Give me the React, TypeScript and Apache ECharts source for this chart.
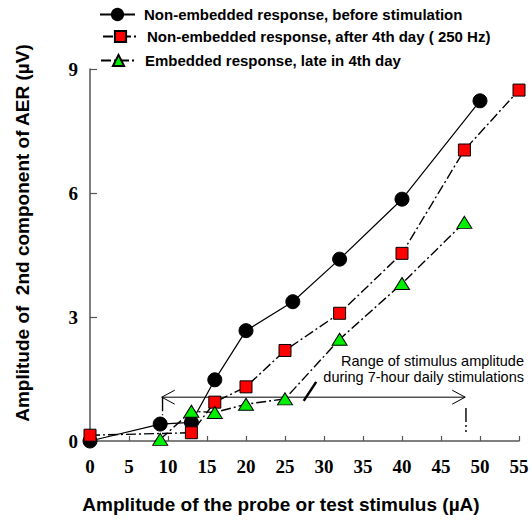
import React, { useEffect, useRef } from "react";
import * as echarts from "echarts";

// ---- data ----
const seriesNames = [
  "Non-embedded response, before stimulation",
  "Non-embedded response, after 4th day ( 250 Hz)",
  "Embedded response, late in 4th day",
];

const xBefore = [0, 9, 13, 16, 20, 26, 32, 40, 50];
const yBefore = [0, 0.41, 0.45, 1.48, 2.67, 3.37, 4.4, 5.85, 8.23];

const xAfter = [0, 13, 16, 20, 25, 32, 40, 48, 55];
const yAfter = [0.14, 0.2, 0.94, 1.31, 2.19, 3.09, 4.54, 7.04, 8.49];

const xEmbedded = [9, 13, 16, 20, 25, 32, 40, 48];
const yEmbedded = [0.04, 0.72, 0.69, 0.89, 1.02, 2.46, 3.81, 5.29];

const xTicks = { min: 0, max: 55, interval: 5 };
const yTicks = { min: 0, max: 9, interval: 3 };

// stimulation range annotation (µA) and its level on the y scale
const stimRange = [9.2, 48.1];
const arrowLevel = 1.06;
const annotationLines = ["Range of stimulus amplitude", "during 7-hour daily stimulations"];
const annotationLevels = [1.93, 1.56];

const pairs = (xs: number[], ys: number[]) => xs.map((x, i) => [x, ys[i]]);

const SANS = "Liberation Sans, Arial, sans-serif";
const SERIF = "Liberation Serif, Times New Roman, serif";
const AXIS_COLOR = "#555";
const DASH = [10, 3, 2, 3];

export default function App() {
  const ref = useRef<HTMLDivElement>(null);

  useEffect(() => {
    if (!ref.current) return;
    const chart = echarts.init(ref.current, undefined, { renderer: "svg" });

    const legendBase = {
      orient: "horizontal",
      padding: 0,
      itemWidth: 35,
      itemHeight: 14,
      textStyle: {
        fontFamily: SANS,
        fontWeight: "bold",
        fontSize: 15,
        color: "#000",
        padding: [0, 0, 0, 4],
      },
    };

    const option: any = {
      animation: false,
      backgroundColor: "#fff",
      legend: [
        { ...legendBase, data: [seriesNames[0]], left: 99, top: 7 },
        { ...legendBase, data: [seriesNames[1]], left: 102, top: 29 },
        { ...legendBase, data: [seriesNames[2]], left: 100, top: 53 },
      ],
      grid: { left: 90, right: 13, top: 69, bottom: 80, containLabel: false },
      xAxis: {
        type: "value",
        min: xTicks.min,
        max: xTicks.max,
        interval: xTicks.interval,
        name: "Amplitude of the probe or test stimulus (µA)",
        nameLocation: "middle",
        nameGap: 54,
        nameTextStyle: {
          fontFamily: SANS,
          fontWeight: "bold",
          fontSize: 19,
          color: "#000",
          padding: [0, 47, 0, 0],
        },
        axisLine: { show: true, lineStyle: { color: AXIS_COLOR, width: 1.5 } },
        axisTick: { show: true, inside: true, length: 5, lineStyle: { color: AXIS_COLOR, width: 1.2 } },
        axisLabel: {
          fontFamily: SERIF,
          fontWeight: "bold",
          fontSize: 19,
          color: "#000",
          margin: 16,
        },
        splitLine: { show: false },
      },
      yAxis: {
        type: "value",
        min: yTicks.min,
        max: yTicks.max,
        interval: yTicks.interval,
        name: "Amplitude of  2nd component of AER (µV)",
        nameLocation: "middle",
        nameGap: 58,
        nameTextStyle: {
          fontFamily: SANS,
          fontWeight: "bold",
          fontSize: 19,
          color: "#000",
          padding: [0, 0, 0, 44],
        },
        axisLine: { show: true, lineStyle: { color: AXIS_COLOR, width: 1.5 } },
        axisTick: { show: true, inside: true, length: 7, lineStyle: { color: AXIS_COLOR, width: 1.2 } },
        axisLabel: {
          fontFamily: SERIF,
          fontWeight: "bold",
          fontSize: 19,
          color: "#000",
          margin: 12,
        },
        splitLine: { show: false },
      },
      series: [
        {
          name: seriesNames[0],
          type: "line",
          data: pairs(xBefore, yBefore),
          symbol: "circle",
          symbolSize: 14,
          itemStyle: { color: "#000", borderColor: "#000", borderWidth: 1 },
          lineStyle: { color: "#000", width: 1.2, type: "solid" },
        },
        {
          name: seriesNames[1],
          type: "line",
          data: pairs(xAfter, yAfter),
          symbol: "rect",
          symbolSize: 12,
          itemStyle: { color: "#ff0000", borderColor: "#000", borderWidth: 1 },
          lineStyle: { color: "#000", width: 1.4, type: DASH },
        },
        {
          name: seriesNames[2],
          type: "line",
          data: pairs(xEmbedded, yEmbedded),
          symbol: "triangle",
          symbolSize: [15, 12],
          itemStyle: { color: "#00ee00", borderColor: "#000", borderWidth: 1 },
          lineStyle: { color: "#000", width: 1.4, type: DASH },
        },
      ],
    };

    chart.setOption(option);

    const p = (x: number, y: number) => chart.convertToPixel({ gridIndex: 0 }, [x, y]) as number[];
    const a = p(stimRange[0], arrowLevel);
    const b = p(stimRange[1], arrowLevel);
    const lv1 = p(stimRange[0] + 0.1, arrowLevel);
    const lv2 = p(stimRange[0] + 0.1, 0.62);
    const rv1 = p(stimRange[1] + 0.1, 0.8);
    const rv2 = p(stimRange[1] + 0.1, 0.22);
    const ptr1 = p(27.4, 0.97);
    const ptr2 = p(29, 1.43);
    const stroke = { stroke: "#000", lineWidth: 1, fill: "none" };

    const texts = annotationLines.map((line, i) => {
      const t = p(xTicks.max, annotationLevels[i]);
      return {
        type: "text",
        x: t[0] + 5,
        y: t[1],
        style: {
          text: line,
          align: "right",
          verticalAlign: "middle",
          fontFamily: SANS,
          fontSize: 14.5,
          fill: "#000",
        },
      };
    });

    chart.setOption({
      graphic: [
        { type: "line", shape: { x1: a[0], y1: a[1], x2: b[0], y2: b[1] }, style: stroke },
        {
          type: "polyline",
          shape: { points: [[a[0] + 13, a[1] - 7], [a[0], a[1]], [a[0] + 13, a[1] + 7]] },
          style: stroke,
        },
        {
          type: "polyline",
          shape: { points: [[b[0] - 13, b[1] - 7], [b[0], b[1]], [b[0] - 13, b[1] + 7]] },
          style: stroke,
        },
        {
          type: "line",
          shape: { x1: lv1[0], y1: lv1[1], x2: lv2[0], y2: lv2[1] },
          style: { ...stroke, lineWidth: 1.4, lineDash: [14, 3, 2, 3] },
        },
        {
          type: "line",
          shape: { x1: rv1[0], y1: rv1[1], x2: rv2[0], y2: rv2[1] },
          style: { ...stroke, lineWidth: 1.4, lineDash: [14, 3, 2, 3] },
        },
        {
          type: "line",
          shape: { x1: ptr1[0], y1: ptr1[1], x2: ptr2[0], y2: ptr2[1] },
          style: { ...stroke, lineWidth: 2.5 },
        },
        ...texts,
      ],
    });

    return () => chart.dispose();
  }, []);

  return (
    <div
      ref={ref}
      style={{ position: "fixed", left: 0, top: 0, width: 532, height: 521, background: "#fff" }}
    />
  );
}
